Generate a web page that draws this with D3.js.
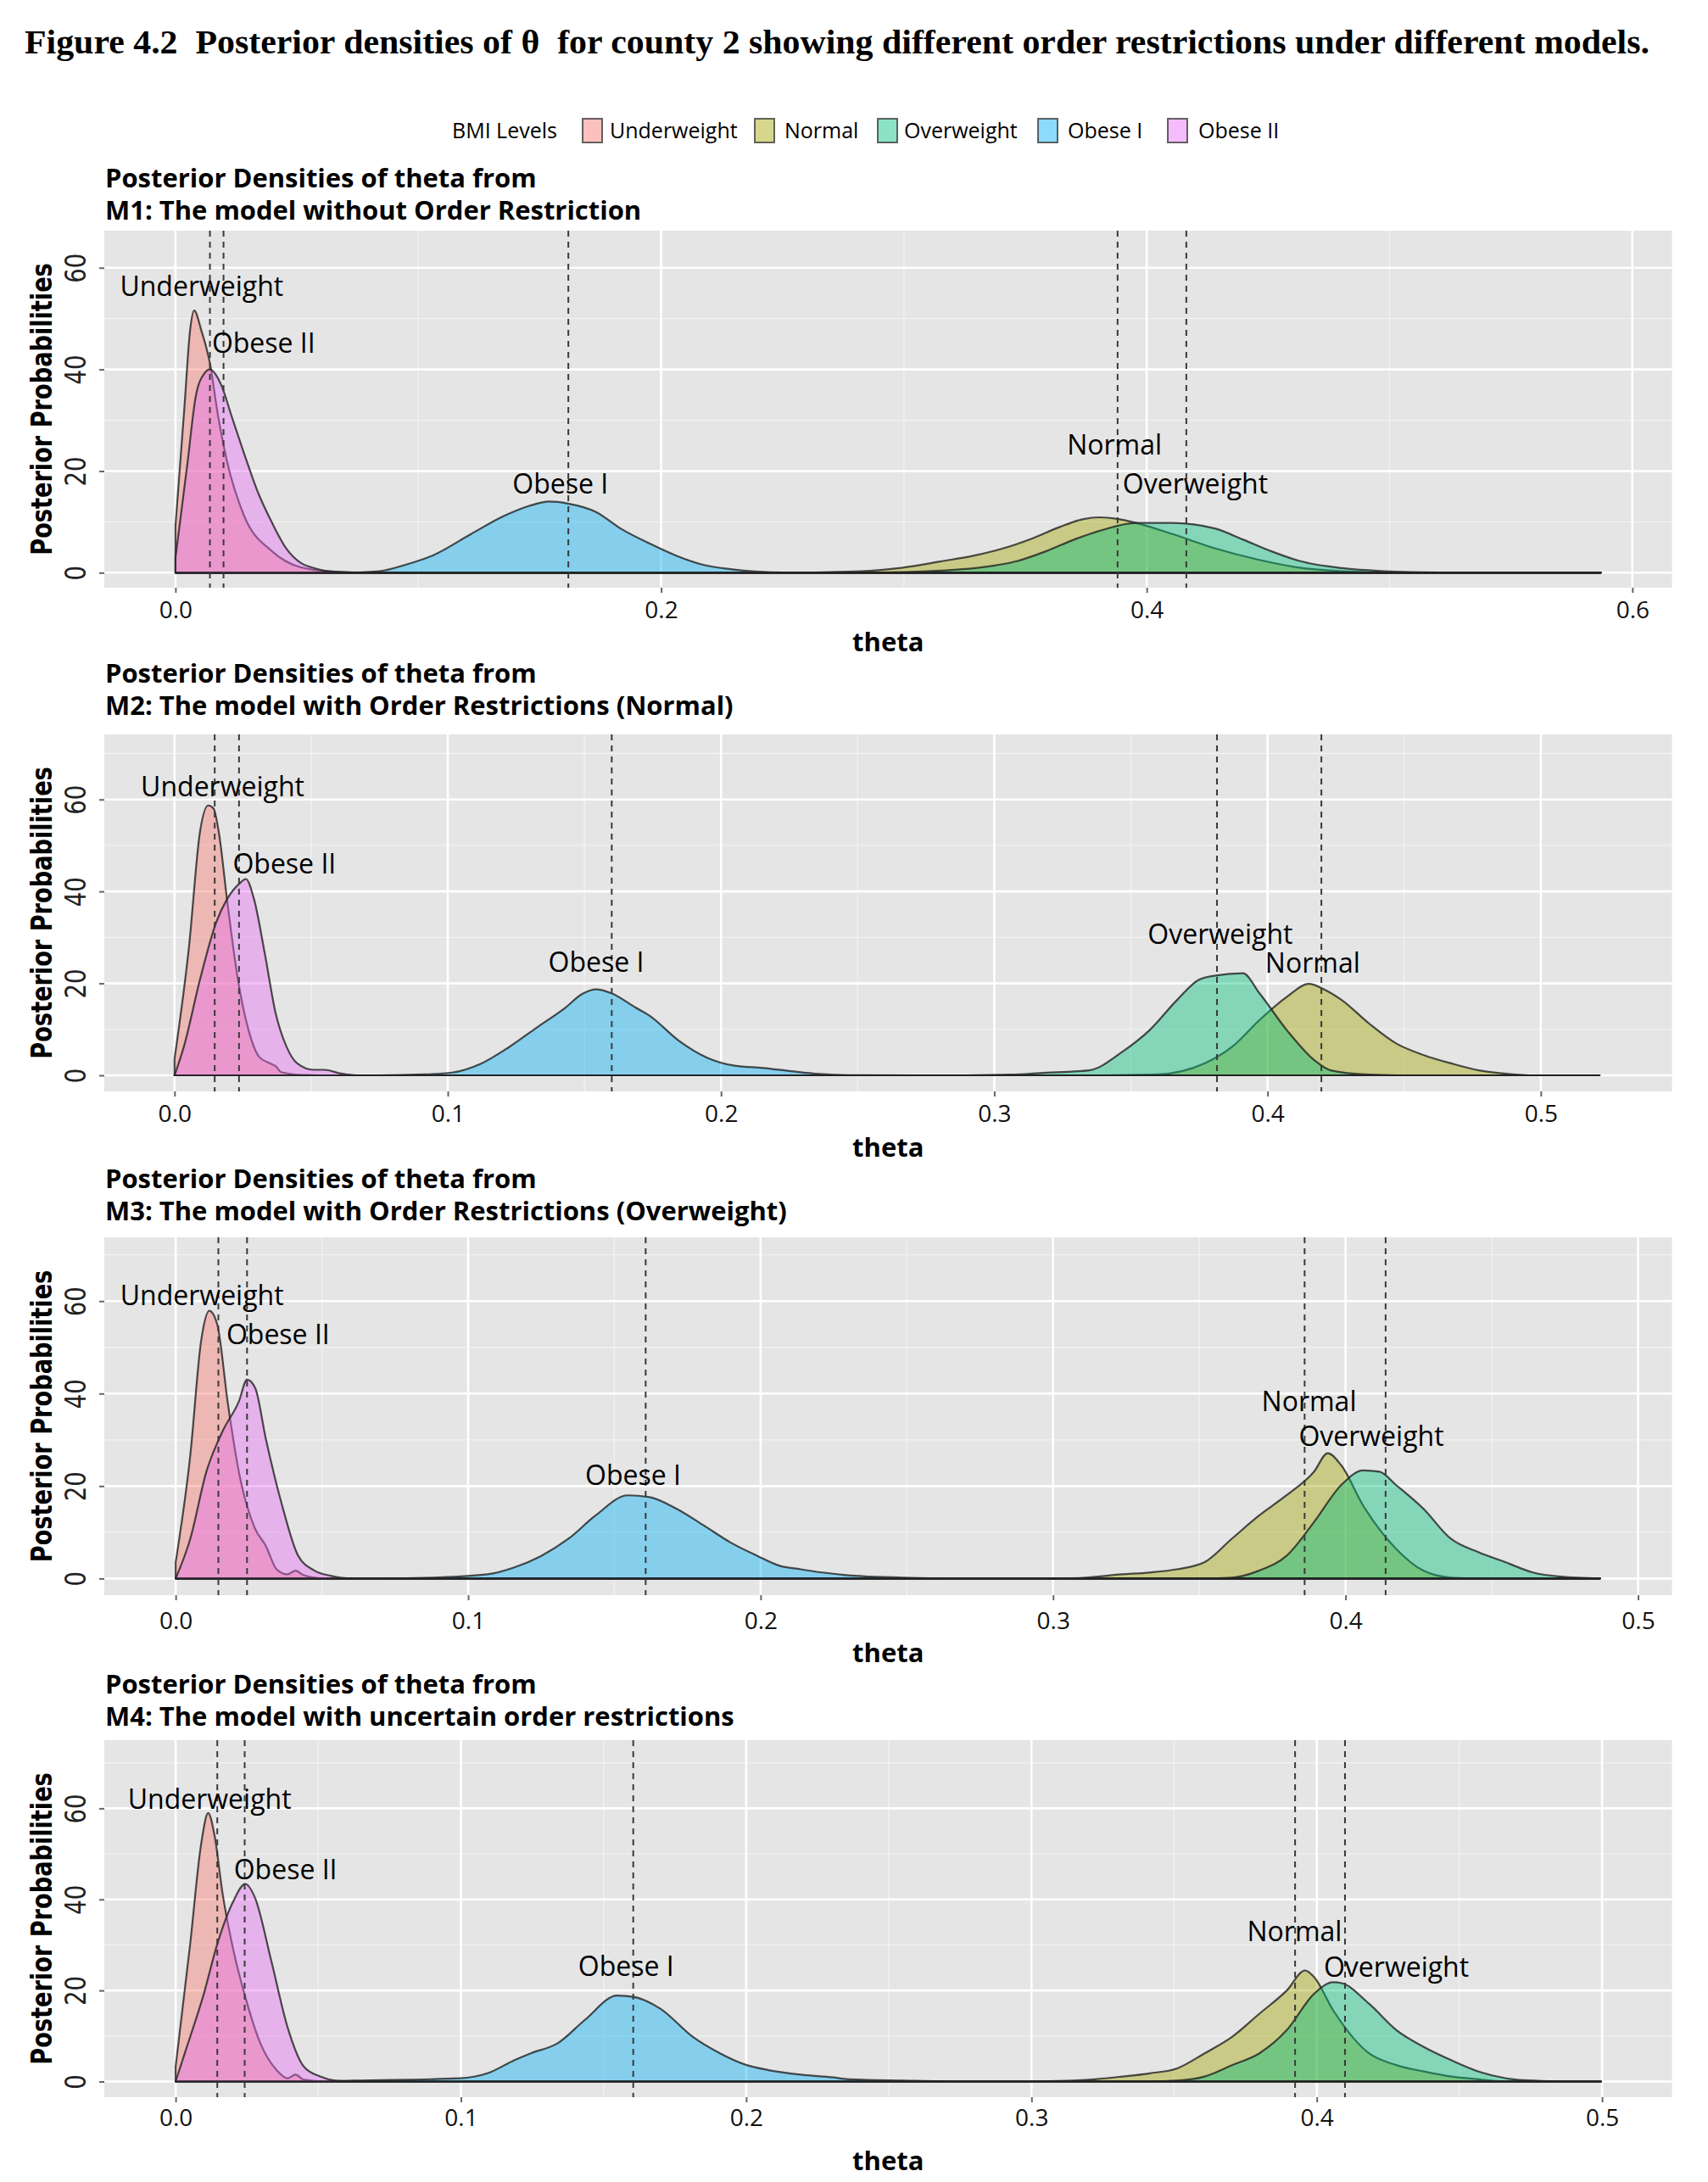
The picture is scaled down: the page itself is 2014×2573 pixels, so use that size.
<!DOCTYPE html>
<html>
<head>
<meta charset="utf-8">
<script src="https://cdn.jsdelivr.net/npm/d3@7"></script>
<style>
  body { margin: 0; background: #fff; }
  text { white-space: pre; }
</style>
</head>
<body>
<div id="chart"></div>
<script>
// BMI levels, in ggplot factor order (drawing order too)
const levels = ["Underweight", "Normal", "Overweight", "Obese I", "Obese II"];
const levelColors = ["#F8766D", "#A3A500", "#00BF7D", "#00B0F6", "#E76BF3"];

const figureTitle = "Figure 4.2  Posterior densities of θ  for county 2 showing different order restrictions under different models.";
const panelTitle1 = "Posterior Densities of theta from";
const modelTitles = [
  "M1: The model without Order Restriction",
  "M2: The model with Order Restrictions (Normal)",
  "M3: The model with Order Restrictions (Overweight)",
  "M4: The model with uncertain order restrictions"
];

const xTicksM1 = [0, 0.2, 0.4, 0.6];
const xTicksOther = [0, 0.1, 0.2, 0.3, 0.4, 0.5];
const yTicks = [0, 20, 40, 60];

// posterior means (dashed lines), order = levels
const m1Means = [0.0142, 0.388, 0.4163, 0.1618, 0.0198];
const m2Means = [0.0147, 0.4197, 0.3815, 0.160, 0.0236];
const m3Means = [0.0146, 0.386, 0.4137, 0.1607, 0.0244];
const m4Means = [0.0146, 0.3924, 0.4099, 0.1604, 0.0242];

// label anchor points (theta, density), order = levels
const m1LabelX = [0.0108, 0.3867, 0.42, 0.1585, 0.0363];
const m1LabelY = [56.4, 25.1, 17.4, 17.4, 45.1];
const m2LabelX = [0.0176, 0.4165, 0.3827, 0.1543, 0.0402];
const m2LabelY = [62.7, 24.4, 30.6, 24.6, 45.9];
const m3LabelX = [0.009, 0.3875, 0.4088, 0.1564, 0.035];
const m3LabelY = [61.2, 38.3, 30.7, 22.3, 52.8];
const m4LabelX = [0.0119, 0.3922, 0.4279, 0.1579, 0.0385];
const m4LabelY = [61.9, 33.0, 25.1, 25.3, 46.6];

// density curves: [theta, density]
const m1Underweight = [[0,9.2],[0.0037,32.6],[0.006,47.6],[0.0077,51.6],[0.0107,47.6],[0.0142,41.2],[0.0175,31],[0.0212,22],[0.0281,11.4],[0.0398,4.2],[0.0514,1.1],[0.065,0.2],[0.08,0],[0.587,0]];
const m1Normal = [[0,0],[0.25,0],[0.277,0.2],[0.2996,1.0],[0.315,2.2],[0.3293,3.4],[0.341,4.8],[0.3526,6.7],[0.3642,9.0],[0.3735,10.5],[0.3805,10.9],[0.388,10.6],[0.3956,9.8],[0.4107,7.6],[0.428,4.8],[0.4456,2.6],[0.463,1.0],[0.4805,0.3],[0.5,0.05],[0.53,0],[0.587,0]];
const m1Overweight = [[0,0],[0.285,0],[0.3,0.1],[0.315,0.4],[0.3293,0.9],[0.3468,2.3],[0.3584,4.2],[0.37,6.5],[0.3817,8.4],[0.3956,9.8],[0.4107,9.8],[0.428,8.7],[0.4398,6.5],[0.4514,4.2],[0.463,2.3],[0.4805,0.9],[0.498,0.3],[0.52,0.05],[0.55,0],[0.587,0]];
const m1ObeseI = [[0,0],[0.07,0],[0.084,0.3],[0.095,1.6],[0.106,3.4],[0.1217,7.6],[0.135,11.1],[0.146,13.2],[0.154,14.0],[0.1617,13.6],[0.173,12.0],[0.184,8.5],[0.195,5.8],[0.206,3.4],[0.217,1.6],[0.2285,0.7],[0.24,0.2],[0.25,0.03],[0.27,0],[0.587,0]];
const m1ObeseII = [[0,2.9],[0.0049,21.4],[0.0084,34.8],[0.0119,39.2],[0.0142,40],[0.0188,37],[0.0234,30.4],[0.0281,23.7],[0.0339,15.9],[0.0398,9.8],[0.0456,4.8],[0.0514,2.0],[0.0572,0.9],[0.063,0.3],[0.075,0.05],[0.09,0],[0.587,0]];

const m2Underweight = [[0,3.6],[0.0053,28],[0.0093,52.9],[0.0123,58.7],[0.0143,58],[0.0162,52.9],[0.0192,38.3],[0.0232,20.8],[0.0271,9.8],[0.031,4],[0.035,2.6],[0.037,2],[0.039,0.7],[0.047,0.1],[0.06,0],[0.5215,0]];
const m2Normal = [[0,0],[0.34,0],[0.3588,0.15],[0.3769,2.6],[0.387,6.2],[0.397,12.0],[0.4071,17.1],[0.4151,19.9],[0.421,18.6],[0.4271,16.4],[0.4371,11.3],[0.4472,6.9],[0.4572,4.4],[0.4672,2.6],[0.4773,1.1],[0.4873,0.36],[0.4974,0],[0.5215,0]];
const m2Overweight = [[0,0],[0.29,0],[0.3066,0.15],[0.3167,0.5],[0.3347,1.1],[0.3468,5.1],[0.3568,9.8],[0.3669,16.4],[0.3749,20.8],[0.381,21.7],[0.391,22.2],[0.397,17.9],[0.4071,9.8],[0.4171,3.3],[0.4231,1.1],[0.4371,0.15],[0.4472,0],[0.5215,0]];
const m2ObeseI = [[0,0],[0.075,0],[0.0912,0.2],[0.1016,0.6],[0.112,2.5],[0.1223,6.1],[0.1326,10.4],[0.143,14.7],[0.1492,17.7],[0.1543,18.7],[0.1597,17.9],[0.1688,14.7],[0.174,12.9],[0.1844,7.6],[0.1947,3.9],[0.205,2.1],[0.2154,1.6],[0.2257,0.9],[0.236,0.3],[0.2464,0.05],[0.27,0],[0.5215,0]];
const m2ObeseII = [[0,0],[0.0034,6.2],[0.0093,20.8],[0.0152,33.2],[0.0192,38.3],[0.0241,41.9],[0.0261,42.7],[0.0291,38.3],[0.033,26.6],[0.037,13.5],[0.041,6.2],[0.0449,2.6],[0.0509,1.2],[0.0548,1.2],[0.0608,0.4],[0.0667,0],[0.5215,0]];

const m3Underweight = [[0,3.5],[0.005,26.7],[0.0087,51.4],[0.0115,57.9],[0.0142,55],[0.0179,37.6],[0.0216,23.1],[0.0272,10.7],[0.0308,7.1],[0.0345,2.0],[0.0382,0.9],[0.041,1.7],[0.0438,0.7],[0.051,0],[0.487,0]];
const m3Normal = [[0,0],[0.3049,0],[0.3236,0.9],[0.333,1.3],[0.3423,2.0],[0.3517,3.5],[0.3611,8.6],[0.3704,13.6],[0.3798,18.0],[0.3892,23.1],[0.3939,27.1],[0.3985,24.5],[0.406,15.8],[0.4173,6.4],[0.4266,1.7],[0.436,0.2],[0.4454,0],[0.487,0]];
const m3Overweight = [[0,0],[0.3517,0],[0.3611,0.2],[0.3704,1.7],[0.3798,4.9],[0.3892,12.2],[0.3985,20.2],[0.406,23.4],[0.4116,23.1],[0.4173,20.2],[0.4266,15.1],[0.436,8.6],[0.4454,5.7],[0.4548,3.5],[0.4641,1.3],[0.4735,0.4],[0.487,0]];
const m3ObeseI = [[0,0],[0.07,0],[0.0881,0.2],[0.1066,0.9],[0.1158,2.4],[0.125,4.9],[0.1343,8.6],[0.1435,13.6],[0.1546,18.0],[0.162,17.6],[0.1712,15.1],[0.1805,11.5],[0.1897,7.8],[0.1989,4.9],[0.2063,2.8],[0.2137,2.0],[0.2211,1.3],[0.23,0.7],[0.2487,0.2],[0.2674,0],[0.487,0]];
const m3ObeseII = [[0,0],[0.005,8.6],[0.0105,23.1],[0.016,31.8],[0.0216,38.3],[0.0244,43],[0.0272,41.2],[0.0308,30.3],[0.0364,15.8],[0.0419,4.9],[0.0475,1.7],[0.053,0.6],[0.0604,0],[0.487,0]];

const m4Underweight = [[0,3.3],[0.0051,30.2],[0.0089,52],[0.0114,59],[0.0136,54.2],[0.0165,41.1],[0.0203,28.7],[0.0241,19.3],[0.0297,8.4],[0.0354,2.5],[0.0392,0.7],[0.042,1.5],[0.0449,0.4],[0.0525,0],[0.4996,0]];
const m4Normal = [[0,0],[0.3,0],[0.3126,0.15],[0.3223,0.5],[0.3319,1.1],[0.3415,1.8],[0.3511,2.9],[0.3607,6.2],[0.3703,9.8],[0.3799,14.9],[0.3895,20],[0.3959,24.4],[0.3991,22.9],[0.4058,15.6],[0.4183,6.2],[0.4279,3.6],[0.4375,2.2],[0.4471,1.1],[0.4567,0.5],[0.4664,0],[0.4996,0]];
const m4Overweight = [[0,0],[0.3415,0],[0.3511,0.2],[0.3607,1.1],[0.3703,3.6],[0.3799,6.2],[0.3895,11.3],[0.3991,19.3],[0.4058,21.8],[0.4087,21.6],[0.4183,17.1],[0.4279,11.3],[0.4375,7.6],[0.4471,4.7],[0.4567,2.2],[0.4664,0.7],[0.476,0.2],[0.4856,0],[0.4996,0]];
const m4ObeseI = [[0,0],[0.05,0],[0.062,0.2],[0.0998,0.7],[0.1093,1.8],[0.1188,4.7],[0.1245,6.2],[0.1339,8.4],[0.1434,13.5],[0.1548,18.9],[0.1604,18.6],[0.1699,16.0],[0.1813,9.8],[0.1908,6.2],[0.2002,3.6],[0.2078,2.5],[0.2192,1.5],[0.2305,0.9],[0.2358,0.5],[0.255,0.2],[0.2742,0],[0.4996,0]];
const m4ObeseII = [[0,0],[0.0032,6.2],[0.0099,19.3],[0.0146,30.2],[0.0203,39.7],[0.0244,43.4],[0.0278,40.4],[0.0335,26.6],[0.0392,12],[0.0449,3.3],[0.0506,1.1],[0.056,0.2],[0.062,0],[0.4996,0]];

// ---- layout ----
const W = 2014, H = 2573;
const panelLeft = 123, panelRight = 1971.5;
const sans = "'Open Sans', 'Noto Sans', sans-serif";

const panels = [
  { top: 272, bottom: 693, xDom: [-0.0293, 0.6163], yDom: [-2.95, 67.3], ticks: xTicksM1, minor: [0.1, 0.3, 0.5],
    curves: [m1Underweight, m1Normal, m1Overweight, m1ObeseI, m1ObeseII], means: m1Means, lx: m1LabelX, ly: m1LabelY,
    t1: 210.5, t2: 248.5, tickY: 719, thetaY: 757 },
  { top: 866, bottom: 1287, xDom: [-0.0257, 0.548], yDom: [-3.5, 74.15], ticks: xTicksOther, minor: [0.05, 0.15, 0.25, 0.35, 0.45],
    curves: [m2Underweight, m2Normal, m2Overweight, m2ObeseI, m2ObeseII], means: m2Means, lx: m2LabelX, ly: m2LabelY,
    t1: 795, t2: 833, tickY: 1313.6, thetaY: 1353 },
  { top: 1459, bottom: 1881, xDom: [-0.0244, 0.5116], yDom: [-3.6, 73.8], ticks: xTicksOther, minor: [0.05, 0.15, 0.25, 0.35, 0.45],
    curves: [m3Underweight, m3Normal, m3Overweight, m3ObeseI, m3ObeseII], means: m3Means, lx: m3LabelX, ly: m3LabelY,
    t1: 1391, t2: 1429, tickY: 1911.6, thetaY: 1949 },
  { top: 2052, bottom: 2473, xDom: [-0.025, 0.5245], yDom: [-3.45, 74.98], ticks: xTicksOther, minor: [0.05, 0.15, 0.25, 0.35, 0.45],
    curves: [m4Underweight, m4Normal, m4Overweight, m4ObeseI, m4ObeseII], means: m4Means, lx: m4LabelX, ly: m4LabelY,
    t1: 1986.5, t2: 2024.5, tickY: 2497.5, thetaY: 2548 }
];

const svg = d3.select("#chart").append("svg")
    .attr("width", W)
    .attr("height", H)
    .style("background", "#fff");

svg.append("rect").attr("width", W).attr("height", H).attr("fill", "#fff");

// figure caption
svg.append("text")
    .attr("x", 29)
    .attr("y", 49)
    .attr("dy", "0.35em")
    .attr("textLength", 1916)
    .attr("lengthAdjust", "spacingAndGlyphs")
    .style("font-family", "'Liberation Serif', 'Times New Roman', serif")
    .style("font-weight", "bold")
    .style("font-size", "39px")
    .text(figureTitle);

// legend
const legendY = 154;
const legend = svg.append("g").style("font-family", sans).style("font-size", "25px");
legend.append("text").attr("x", 533).attr("y", legendY).attr("dy", "0.35em").text("BMI Levels");
const keyX = [687, 890, 1035, 1224, 1377];
const keyTextX = [719, 925, 1066, 1259, 1413];
levels.forEach(function(lv, i) {
  legend.append("rect")
      .attr("x", keyX[i]).attr("y", legendY - 14)
      .attr("width", 23).attr("height", 28)
      .attr("fill", "#fff");
  legend.append("rect")
      .attr("x", keyX[i]).attr("y", legendY - 14)
      .attr("width", 23).attr("height", 28)
      .attr("fill", levelColors[i]).attr("fill-opacity", 0.45)
      .attr("stroke", "#333").attr("stroke-opacity", 0.75).attr("stroke-width", 2);
  legend.append("text").attr("x", keyTextX[i]).attr("y", legendY).attr("dy", "0.35em").text(lv);
});

panels.forEach(function(p, pi) {
  const x = d3.scaleLinear().domain(p.xDom).range([panelLeft, panelRight]);
  const y = d3.scaleLinear().domain(p.yDom).range([p.bottom, p.top]);
  const g = svg.append("g");

  // titles (slightly widened to match the stretched original)
  g.append("text").attr("dy", "0.35em")
      .attr("transform", "translate(124," + p.t1 + ") scale(1.05,1)")
      .style("font-family", sans).style("font-weight", "bold").style("font-size", "29.5px")
      .text(panelTitle1);
  g.append("text").attr("dy", "0.35em")
      .attr("transform", "translate(124," + p.t2 + ") scale(1.05,1)")
      .style("font-family", sans).style("font-weight", "bold").style("font-size", "29.5px")
      .text(modelTitles[pi]);

  // panel background
  g.append("rect")
      .attr("x", panelLeft).attr("y", p.top)
      .attr("width", panelRight - panelLeft).attr("height", p.bottom - p.top)
      .attr("fill", "#E5E5E5");

  // grid
  const yMinor = [10, 30, 50, 70].filter(v => v < p.yDom[1]);
  g.selectAll(".gxm").data(p.minor).enter().append("line")
      .attr("x1", d => x(d)).attr("x2", d => x(d))
      .attr("y1", p.top).attr("y2", p.bottom)
      .attr("stroke", "#F2F2F2").attr("stroke-width", 1.3);
  g.selectAll(".gym").data(yMinor).enter().append("line")
      .attr("x1", panelLeft).attr("x2", panelRight)
      .attr("y1", d => y(d)).attr("y2", d => y(d))
      .attr("stroke", "#F2F2F2").attr("stroke-width", 1.3);
  g.selectAll(".gx").data(p.ticks).enter().append("line")
      .attr("x1", d => x(d)).attr("x2", d => x(d))
      .attr("y1", p.top).attr("y2", p.bottom)
      .attr("stroke", "#fff").attr("stroke-width", 2.6);
  g.selectAll(".gy").data(yTicks).enter().append("line")
      .attr("x1", panelLeft).attr("x2", panelRight)
      .attr("y1", d => y(d)).attr("y2", d => y(d))
      .attr("stroke", "#fff").attr("stroke-width", 2.6);

  // densities
  const area = d3.area()
      .x(d => x(d[0]))
      .y0(y(0))
      .y1(d => y(d[1]))
      .curve(d3.curveMonotoneX);
  g.selectAll(".dens").data(p.curves).enter().append("path")
      .attr("d", area)
      .attr("fill", (d, i) => levelColors[i])
      .attr("fill-opacity", 0.42)
      .attr("stroke", "#222")
      .attr("stroke-opacity", 0.8)
      .attr("stroke-width", 2.2)
      .attr("stroke-linejoin", "round");

  // means
  g.selectAll(".mean").data(p.means).enter().append("line")
      .attr("x1", d => x(d)).attr("x2", d => x(d))
      .attr("y1", p.top).attr("y2", p.bottom)
      .attr("stroke", "#3a3a3a").attr("stroke-width", 2)
      .attr("stroke-dasharray", "7,6");

  // level labels
  g.selectAll(".lab").data(levels).enter().append("text")
      .attr("x", (d, i) => x(p.lx[i]))
      .attr("y", (d, i) => y(p.ly[i]))
      .attr("dy", "0.35em")
      .attr("text-anchor", "middle")
      .style("font-family", sans).style("font-size", "32px")
      .text(d => d);

  // x axis
  const xAxis = g.append("g")
      .attr("transform", "translate(0," + p.bottom + ")")
      .call(d3.axisBottom(x).tickValues(p.ticks).tickFormat(d3.format(".1f")).tickSize(6).tickPadding(p.tickY - p.bottom - 16));
  xAxis.select(".domain").remove();
  xAxis.selectAll(".tick line").attr("stroke", "#666").attr("stroke-width", 2);
  xAxis.selectAll(".tick text")
      .style("font-family", sans).style("font-size", "28px").attr("fill", "#111");

  // y axis
  const yAxis = g.append("g")
      .attr("transform", "translate(" + panelLeft + ",0)")
      .call(d3.axisLeft(y).tickValues(yTicks).tickSize(6));
  yAxis.select(".domain").remove();
  yAxis.selectAll(".tick line").attr("stroke", "#666").attr("stroke-width", 2);
  yAxis.selectAll(".tick text")
      .attr("x", 0).attr("dy", "0.36em")
      .attr("text-anchor", "middle")
      .attr("transform", "translate(-34,0) rotate(-90) scale(0.86,1.07)")
      .style("font-family", "'DejaVu Sans', sans-serif").style("font-size", "32px").attr("fill", "#222");

  // axis titles
  g.append("text")
      .attr("text-anchor", "middle")
      .attr("dy", "0.38em")
      .attr("transform", "translate(48," + ((p.top + p.bottom) / 2) + ") rotate(-90) scale(0.8,1)")
      .style("font-family", "'DejaVu Sans', sans-serif").style("font-weight", "bold").style("font-size", "34px")
      .text("Posterior Probabilities");
  g.append("text")
      .attr("x", (panelLeft + panelRight) / 2).attr("y", p.thetaY)
      .attr("dy", "0.37em")
      .attr("text-anchor", "middle")
      .style("font-family", sans).style("font-weight", "bold").style("font-size", "31px")
      .text("theta");
});
</script>
</body>
</html>
